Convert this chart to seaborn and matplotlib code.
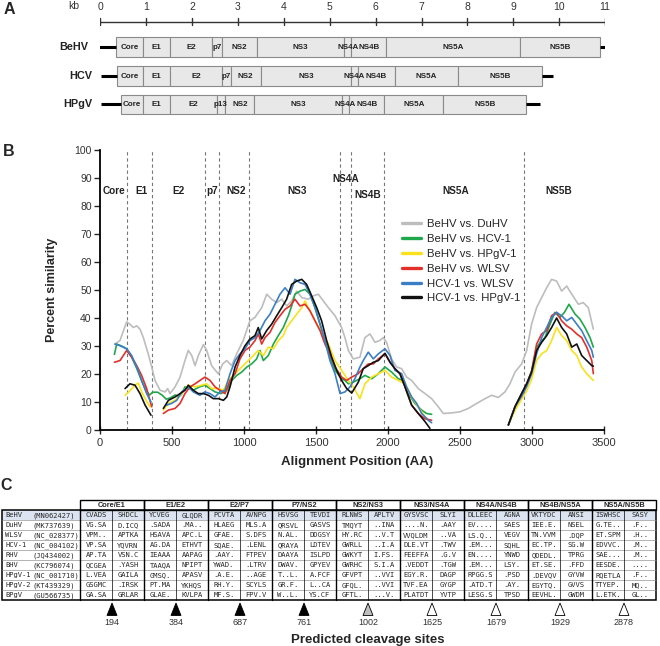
import numpy as np
import pandas as pd
import matplotlib
matplotlib.use("Agg")
import matplotlib.pyplot as plt
import seaborn as sns
from matplotlib.lines import Line2D
from matplotlib.patches import Rectangle, Polygon

sns.set_theme(style="white")
plt.rcParams["font.family"] = ["Liberation Sans", "DejaVu Sans"]

nan = np.nan

# ---------------- panel A: genome maps (kb) ----------------
kb_ticks = list(range(12))
genomes = ["BeHV", "HCV", "HPgV"]
behv_genes = ["Core", "E1", "E2", "p7", "NS2", "NS3", "NS4A", "NS4B", "NS5A", "NS5B"]
hcv_genes = ["Core", "E1", "E2", "p7", "NS2", "NS3", "NS4A", "NS4B", "NS5A", "NS5B"]
hpgv_genes = ["Core", "E1", "E2", "p13", "NS2", "NS3", "NS4A", "NS4B", "NS5A", "NS5B"]
behv_bounds = [0.34, 0.93, 1.53, 2.43, 2.66, 3.41, 5.31, 5.47, 6.23, 9.14, 10.88]
hcv_bounds = [0.36, 0.93, 1.53, 2.65, 2.84, 3.50, 5.46, 5.61, 6.42, 7.79, 9.63]
hpgv_bounds = [0.46, 0.93, 1.53, 2.54, 2.72, 3.36, 5.26, 5.43, 6.19, 7.47, 9.28]
behv_utr = [-0.07, 11.25]
hcv_utr = [0.02, 9.86]
hpgv_utr = [0.02, 9.58]

# ---------------- panel B: similarity plot ----------------
duhv_pos = [104, 139, 185, 208, 231, 255, 278, 301, 336, 359, 382, 417, 452, 470, 486, 521, 556, 590,
            613, 637, 660, 683, 718, 741, 775, 822, 852, 880, 914, 949, 995, 1041, 1076, 1123, 1158,
            1192, 1227, 1262, 1296, 1331, 1366, 1401, 1447, 1481, 1516, 1551, 1586, 1632, 1678, 1701,
            1725, 1759, 1805, 1840, 1875, 1910, 1944, 1967, 1990, 2025, 2060, 2095, 2129, 2164, 2210,
            2257, 2303, 2349, 2384, 2442, 2500, 2558, 2616, 2674, 2720, 2766, 2812, 2847, 2882, 2928,
            2963, 2997, 3032, 3067, 3102, 3136, 3171, 3206, 3241, 3276, 3322, 3356, 3391, 3426]
duhv_sim = [30.7, 32, 38.6, 37.8, 36.6, 37.2, 36, 33, 27, 22.5, 17.7, 14.2, 13.6, 14.8, 13, 15.4, 18.9, 24.8,
            28.4, 26.6, 23, 26.6, 30.5, 28.4, 23, 20, 23.6, 24.8, 23, 27.2, 32, 39, 40.2, 43.7, 48.5,
            46.7, 45.5, 46.7, 44.3, 46.1, 49.6, 47.3, 46.7, 47.9, 48.5, 46.1, 43.7, 40.8, 36.6, 33,
            28.4, 25.4, 26, 33, 34.3, 31.3, 32, 33, 31.3, 25.4, 22.5, 21.9, 18.9, 17.7, 14.8,
            13, 11.2, 8.3, 5.9, 6.1, 6.5, 7.7, 9.5, 11.2, 12.4, 11.6, 13.6, 16.5, 20.7, 23.6,
            28.4, 37.8, 43.7, 47.3, 50.8, 53.8, 53.2, 49.6, 51.4, 48.5, 44.9, 45.5, 43.7, 36]

hcv1_pos = [100, 116, 150, 185, 220, 255, 290, 320, 345, 365, 400, 430, 460, 490, 521, 550, 567, 590,
            613, 648, 690, 729, 764, 799, 840, 880, 915, 950, 984, 1020, 1053, 1088, 1111, 1134, 1169,
            1204, 1238, 1273, 1308, 1331, 1354, 1389, 1424, 1458, 1493, 1528, 1562, 1597, 1632, 1678,
            1701, 1725, 1759, 1805, 1840, 1887, 1933, 1979, 2025, 2072, 2106, 2141, 2187, 2234, 2268,
            2303, nan,
            2836, 2882, 2928, 2963, 2997, 3032, 3067, 3090, 3125, 3159, 3194, 3225, 3257, 3299, 3333,
            3368, 3403, 3426]
hcv1_sim = [27, 30.7, 30, 29, 26, 22, 17.5, 14, 12.5, 13.5, 13.5, 12.5, 11, 11.5, 12.5, 12, 12.8, 15.4,
            15, 14.2, 15.4, 16, 14.8, 13.6, 13, 14.2, 17.7, 19.5, 20.7, 22.5, 23.6, 25.4, 28.4, 24.8, 26.6,
            30.7, 33.7, 36.6, 40.8, 44.3, 48.5, 49.6, 50.2, 48.5, 43.7, 37.8, 31.9, 26, 21.3, 18.3,
            17.7, 16.5, 17.1, 18.3, 19.5, 18.3, 20.1, 22.5, 20.7, 18.3, 17.7, 13, 9.5, 7.1, 5.9,
            5.6, nan,
            1.8, 8.3, 13, 16.5, 20.7, 29.6, 31.9, 33, 37.8, 42, 40.2, 42, 44.9, 41.4, 39.6,
            36.6, 33, 29.6]

hpgv1_pos = [174, 208, 243, 265, 290, 320, 347, nan,
             440, 475, 521, 567, 613, 660, 706, 741, 775, 822, 857, 891, 938, 984, 1030, 1065, 1099,
             1134, 1169, 1204, 1238, 1273, 1296, 1331, 1366, 1401, 1424, 1458, 1493, 1539, 1586, 1632,
             1678, 1725, 1759, 1805, 1840, 1887, 1933, 1979, 2025, 2072, 2118, 2164, 2210, 2257, 2291, nan,
             2836, 2882, 2928, 2963, 2997, 3032, 3067, 3102, 3136, 3171, 3206, 3241, 3276, 3311, 3345,
             3380, 3426]
hpgv1_sim = [12.4, 14, 16, 16.8, 13.6, 10.6, 8.3, nan,
             7.1, 9.5, 10.6, 13, 16, 15.4, 16, 16.5, 14.8, 14.8, 14.2, 17.7, 20.1, 22.5, 24.8, 26.6, 28.4,
             26.6, 29.6, 29, 31.9, 33.7, 36.6, 39, 41.4, 43.7, 46.1, 42.6, 39, 34.9, 30.7, 24.8,
             21.3, 17.7, 15.4, 11.2, 16.5, 18.9, 20.1, 21.3, 18.9, 17.7, 16.5, 11.8, 8.3, 4.7, 3, nan,
             1.8, 7, 11, 14, 18, 24.8, 27.2, 28.4, 31.9, 36.6, 33.7, 31.9, 28.4, 26.6, 22.5,
             20.1, 17.7]

wlsv_pos = [100, 139, 185, 220, 255, 289, 324, 359, nan,
            440, 475, 521, 556, 590, 625, 660, 694, 729, 764, 799, 833, 868, 903, 938, 972, 1007, 1041,
            1076, 1099, 1123, 1146, 1181, 1215, 1250, 1285, 1320, 1354, 1389, 1424, 1458, 1493, 1528,
            1562, 1597, 1632, 1678, 1713, 1748, 1790, 1828, 1863, 1898, 1933, 1979, 2014, 2048, 2083,
            2118, 2164, 2210, 2257, 2303, nan,
            2836, 2882, 2928, 2963, 2997, 3032, 3067, 3102, 3136, 3171, 3206, 3241, 3276, 3311, 3345,
            3380, 3415, 3426]
wlsv_sim = [24.2, 24.8, 28.4, 26, 23, 19.5, 14.8, 8.3, nan,
            5.9, 7.1, 7.7, 9.5, 13, 15.4, 16.5, 17.7, 18.9, 17.7, 15.4, 14.2, 13, 17.7, 20.1, 25.4, 28.4, 29.6,
            31.9, 34.3, 30.7, 33, 34.9, 38.4, 40.8, 43.1, 44.3, 46.7, 44.3, 44.9, 42.6, 39, 35.5,
            30.7, 27.2, 22.5, 18.9, 17.7, 18.9, 20, 21.9, 23.6, 23.6, 25.4, 27.2, 24.2, 21.9, 20.1,
            15.4, 8.9, 5.9, 4, 3.5, nan,
            1.8, 8.3, 13, 16.5, 21, 30.7, 34.3, 35.5, 40.8, 42, 39, 37.2, 36, 34.3, 33,
            29.6, 24.8, 20.1]

hcv1_wlsv_pos = [104, 139, 185, 220, 255, 289, 324, 354, nan,
                 463, 498, 533, 567, 613, 648, 694, 729, 764, 799, 833, 868, 903, 938, 972, 1007, 1041,
                 1076, 1111, 1146, 1181, 1215, 1250, 1285, 1320, 1354, 1389, 1424, 1458, 1493, 1528, 1562,
                 1597, 1632, 1667, 1701, 1736, 1770, 1805, 1828, 1863, 1898, 1933, 1979, 2014, 2048, 2095,
                 2129, 2164, 2199, 2234, 2280, 2303, nan,
                 2836, 2882, 2928, 2963, 2997, 3032, 3067, 3102, 3136, 3171, 3206, 3241, 3276, 3311, 3345,
                 3380, 3415, 3426]
hcv1_wlsv_sim = [30.7, 30.1, 29, 26.6, 22.5, 17.7, 13, 10, nan,
                 8.9, 9.5, 10.6, 13.6, 15.4, 13.6, 12.4, 13.6, 13, 11.8, 13.6, 14.2, 20.1, 24.8, 27.2, 29, 31.9,
                 33, 35.5, 39, 41.4, 44.9, 48.5, 50.8, 48.5, 53.8, 52.6, 52, 48.5, 43.7, 37.8, 31.9,
                 24.8, 20.1, 13, 13.6, 15.4, 18.3, 22.5, 24.8, 27.8, 25.4, 27.2, 29, 26.6, 21.3, 20.1,
                 15.4, 11.8, 9.5, 5.9, 3.5, 2.6, nan,
                 1.8, 8.3, 12, 15.5, 20, 27.2, 33, 36.6, 40.2, 42, 40.8, 39, 40.2, 37.8, 35.5,
                 31.9, 28.4, 26]

hcv1_hpgv1_pos = [174, 208, 243, 278, 313, 354, nan,
                  440, 475, 521, 556, 590, 613, 648, 683, 718, 753, 787, 822, 857, 880, 903, 938, 972, 1007,
                  1041, 1076, 1099, 1123, 1157, 1192, 1227, 1262, 1296, 1331, 1366, 1401, 1435, 1470, 1505,
                  1539, 1574, 1609, 1644, 1678, 1713, 1748, 1794, 1828, 1863, 1898, 1933, 1979, 2014, 2048,
                  2083, 2118, 2164, 2210, 2257, 2291, nan,
                  2836, 2882, 2928, 2963, 2997, 3032, 3067, 3102, 3136, 3171, 3206, 3241, 3276, 3311, 3345,
                  3380, 3415, 3426]
hcv1_hpgv1_sim = [14.8, 16.5, 16, 13, 8.9, 5.3, nan,
                  7.7, 10.6, 11.8, 13, 14.2, 16, 14.2, 13, 13, 12.4, 11.2, 11.2, 10.6, 11.8, 15.4, 22.5, 26.6, 30.1,
                  32.5, 33.7, 36.6, 32.5, 35.5, 37.8, 40.8, 43.7, 46.7, 52, 53.2, 53.8, 52, 47.9, 43.7,
                  39, 31.9, 26, 21.3, 17.7, 14.8, 13.2, 17.1, 21.9, 23, 24.2, 24.8, 27.4, 24.2, 21.9,
                  20.1, 15.4, 8.9, 5.9, 3, 0.6, nan,
                  1.8, 8.3, 13, 16.5, 20.7, 28.4, 31.3, 33.7, 36.6, 40, 36.6, 34.3, 29.6, 30.7, 26.6,
                  24.8, 23, 22.8]

pair_names = ["BeHV vs. DuHV", "BeHV vs. HCV-1", "BeHV vs. HPgV-1",
              "BeHV vs. WLSV", "HCV-1 vs. WLSV", "HCV-1 vs. HPgV-1"]
pair_colors = ["#bdbdbd", "#1ea84b", "#f9e21b", "#e2302a", "#3c7ec6", "#111111"]

region_names = ["Core", "E1", "E2", "p7", "NS2", "NS3", "NS4A", "NS4B", "NS5A", "NS5B"]
region_x = [95, 285, 548, 781, 942, 1366, 1708, 1857, 2468, 3187]
region_y = [85.5, 85.5, 85.5, 85.5, 85.5, 85.5, 89.5, 84, 85.5, 85.5]
region_bounds = [190, 359, 728, 826, 1035, 1668, 1745, 1974, 2944]

# ---------------- panel C: cleavage site table ----------------
junctions = ["Core/E1", "E1/E2", "E2/P7", "P7/NS2", "NS2/NS3", "NS3/NS4A",
             "NS4A/NS4B", "NS4B/NS5A", "NS5A/NS5B"]
virus_names = ["BeHV", "DuHV", "WLSV", "HCV-1", "RHV", "BHV", "HPgV-1", "HPgV-2", "BPgV"]
accessions = ["(MN062427)", "(MK737639)", "(NC_028377)", "(NC_004102)", "(JQ434002)",
              "(KC796074)", "(NC_001710)", "(KT439329)", "(GU566735)"]
site_seqs = [
    "CVADS SHDCL YCVEG GLQDR PCVTA AVNPG HSVSG TEVDI RLNWS APLTV GYSVSC SLYI DLLEEC AGNA VKTYDC ANSI ISWHSC SASY",
    "VG.SA D.ICQ .SADA .MA.. HLAEG MLS.A QRSVL GASVS TMQYT ..INA ....N. .AAY EV.... SAES IEE.E. NSEL G.TE.. .F..",
    "VPM.. APTKA HSAVA APC.L GFAE. S.DFS N.AL. DDGSY HY.RC ..V.T VVQLDM ..VA LS.Q.. VEGV TN.VVM .DQP ET.SPM .H..",
    "VP.SA YQVRN AG.DA ETHVT SQAE. .LENL QRAYA LDTEV GWRLL ..I.A DLE.VT .TWV .EM... SQHL EC.TP. SG.W EDVVC. .M..",
    "AP.TA VSN.C IEAAA AAPAG .AAY. FTPEV DAAYA ISLPD GWKYT I.FS. FEEFFA .G.V EN.... YNWD QDEDL. TPRG SAE... .M..",
    "QCGEA .YASH TAAQA NPIPT YWAD. .LTRV DWAV. GPYEV GWRHC S.I.A .VEDDT .TGW .EM... LSY. ET.SE. .FFD EESDE. ....",
    "L.VEA GAILA GMSQ. APASV .A.E. ..AGE T..L. A.FCF GFVPT ..VVI EGY.R. DAGP RPGG.S .PSD .DEVQV GYVW RQETLA .F..",
    "GSGMC .IRSK PT.MA YKHQS RH.Y. SCYLS GR.F. L..CA GFQL. ..VVI TVF.EA GYGP .ATD.T .AY. EGYTQ. GVVS TTYEP. MQ..",
    "GA.SA GRLAR GLAE. KVLPA MF.S. FPV.V W..L. YS.CF GFTL. ...V. PLATDT YVTP LESG.S TPSD EEVHL. GWDM L.ETK. GL..",
]
cleavage_sites = [194, 384, 687, 761, 1002, 1625, 1679, 1929, 2878]
site_fill = ["#000000"] * 4 + ["#bfbfbf"] + ["#ffffff"] * 4

# ================= figure =================
W, H = 660, 646
fig = plt.figure(figsize=(W / 100, H / 100), dpi=100)

# ----- panel A -----
ax_a = fig.add_axes([100.2 / W, 1 - 130 / H, 505 / W, 130 / H])
ax_a.set_xlim(0, 11)
ax_a.set_ylim(130, 0)
ax_a.axis("off")
ax_a.plot([0, 11], [21.7, 21.7], color="#333333", lw=1.0)
for k in kb_ticks:
    ax_a.plot([k, k], [18.3, 25.0], color="#333333", lw=1.0)
    ax_a.text(k, 7, str(k), ha="center", va="center", fontsize=7.5, color="#333333")
ax_a.text(-0.58, 6, "kb", ha="center", va="center", fontsize=7.5, color="#333333")

genome_rows = [(behv_bounds, behv_genes, behv_utr, 47, -0.26),
               (hcv_bounds, hcv_genes, hcv_utr, 76, -0.17),
               (hpgv_bounds, hpgv_genes, hpgv_utr, 104.3, -0.17)]
for name, (bounds, genes, utr, yc, xlab) in zip(genomes, genome_rows):
    ax_a.plot([utr[0], bounds[0]], [yc, yc], color="black", lw=2.2, solid_capstyle="butt")
    ax_a.plot([bounds[-1], utr[1]], [yc, yc], color="black", lw=2.2, solid_capstyle="butt")
    for i, g in enumerate(genes):
        x0, x1 = bounds[i], bounds[i + 1]
        ax_a.add_patch(Rectangle((x0, yc - 9.6), x1 - x0, 19.2, facecolor="#e8e8e8",
                                 edgecolor="#8a8a8a", lw=0.8))
        ax_a.text((x0 + x1) / 2, yc + 0.5, g, ha="center", va="center", fontsize=5.8,
                  fontweight="bold", color="#222222")
    ax_a.text(xlab, yc, name, ha="right", va="center", fontsize=7.8, fontweight="bold",
              color="#222222", clip_on=False)

# ----- panel B -----
ax_b = fig.add_axes([100 / W, 1 - 430 / H, 504 / W, 280 / H])
series = [(duhv_pos, duhv_sim), (hcv1_pos, hcv1_sim), (hpgv1_pos, hpgv1_sim),
          (wlsv_pos, wlsv_sim), (hcv1_wlsv_pos, hcv1_wlsv_sim), (hcv1_hpgv1_pos, hcv1_hpgv1_sim)]
rows = []
for name, (pos, sim) in zip(pair_names, series):
    assert len(pos) == len(sim), name
    seg = 0
    for p, s in zip(pos, sim):
        if np.isnan(p):
            seg += 1
            continue
        rows.append((name, f"{name}-{seg}", p, s))
df = pd.DataFrame(rows, columns=["pair", "seg", "pos", "sim"])

for b in region_bounds:
    ax_b.plot([b, b], [0, 100], color="#777777", lw=0.8, dashes=(3, 2.5), zorder=1)

sns.lineplot(data=df, x="pos", y="sim", hue="pair", units="seg", estimator=None,
             hue_order=pair_names, palette=dict(zip(pair_names, pair_colors)),
             lw=1.2, sort=True, legend=False, ax=ax_b, zorder=3)

for name, x, y in zip(region_names, region_x, region_y):
    ax_b.text(x, y, name, ha="center", va="center", fontsize=7.2, fontweight="bold", color="#222222")

handles = [Line2D([0], [0], color=c, lw=2.4) for c in pair_colors]
ax_b.legend(handles, pair_names, loc="upper left", bbox_to_anchor=(0.599, 0.752),
            frameon=False, fontsize=8.2, handlelength=1.7, handletextpad=0.5,
            labelspacing=0.42, borderaxespad=0, borderpad=0)

ax_b.set_xlim(0, 3500)
ax_b.set_ylim(0, 100)
ax_b.set_xticks(range(0, 3501, 500))
ax_b.set_yticks(range(0, 101, 10))
for side in ["top", "right"]:
    ax_b.spines[side].set_visible(False)
for side in ["left", "bottom"]:
    ax_b.spines[side].set_color("black")
    ax_b.spines[side].set_linewidth(1.3)
ax_b.tick_params(axis="y", direction="out", length=4, width=1, labelsize=7.5,
                 labelcolor="#333333", left=True, pad=2)
ax_b.tick_params(axis="x", direction="inout", length=6, width=1, labelsize=8,
                 labelcolor="#333333", bottom=True, pad=3)
ax_b.set_xlabel("Alignment Position (AA)", fontsize=9.5, fontweight="bold")
ax_b.set_ylabel("Percent similarity", fontsize=9, fontweight="bold")
ax_b.xaxis.set_label_coords(0.51, -0.093)
ax_b.yaxis.set_label_coords(-0.083, 0.5)
ax_b.grid(False)

# ----- overlay in pixel units: panel letters and table C -----
ax_o = fig.add_axes([0, 0, 1, 1])
ax_o.set_xlim(0, W)
ax_o.set_ylim(H, 0)
ax_o.axis("off")
ax_o.patch.set_visible(False)

for letter, (x, y) in zip("ABC", [(9, 9), (9, 151), (6, 486)]):
    ax_o.text(x, y, letter, ha="center", va="center", fontsize=11.5, fontweight="bold")

name_l, name_r, col_w = 2, 80, 32
head_t, row_t, row_h = 500, 510, 10
n_rows = len(virus_names)
tab_r = name_r + col_w * 2 * len(junctions)
tab_b = row_t + row_h * n_rows
mono = ["DejaVu Sans Mono"]

ax_o.add_patch(Rectangle((name_l, row_t), tab_r - name_l, row_h, facecolor="#dbe4f0",
                         edgecolor="none", zorder=0))
for r in range(1, n_rows):
    ax_o.plot([name_l, tab_r], [row_t + r * row_h] * 2, color="#8a8a8a", lw=0.45)
for c in range(2 * len(junctions)):
    x = name_r + c * col_w
    ax_o.plot([x, x], [row_t, tab_b], color="black", lw=1.0 if c % 2 == 0 else 0.5)
ax_o.add_patch(Rectangle((name_l, row_t), tab_r - name_l, tab_b - row_t, facecolor="none",
                         edgecolor="black", lw=1.1))
for j, lab in enumerate(junctions):
    x0 = name_r + j * 2 * col_w
    ax_o.add_patch(Rectangle((x0, head_t), 2 * col_w, row_t - head_t, facecolor="none",
                             edgecolor="black", lw=1.0))
    ax_o.text(x0 + col_w, (head_t + row_t) / 2 + 0.5, lab, ha="center", va="center",
              fontsize=5.3, fontweight="bold")

for r, (vn, acc, seqs) in enumerate(zip(virus_names, accessions, site_seqs)):
    yc = row_t + r * row_h + row_h / 2 + 0.3
    ax_o.text(name_l + 3, yc, vn, ha="left", va="center", fontsize=5.1, family=mono)
    ax_o.text(name_l + 31, yc, acc, ha="left", va="center", fontsize=5.1, family=mono)
    for c, s in enumerate(seqs.split()):
        ax_o.text(name_r + c * col_w + col_w / 2, yc, s, ha="center", va="center",
                  fontsize=5.1, family=mono)

for j, (site, fc) in enumerate(zip(cleavage_sites, site_fill)):
    cx = name_r + (2 * j + 1) * col_w
    ax_o.add_patch(Polygon([(cx, 603), (cx - 5, 615.5), (cx + 5, 615.5)], closed=True,
                           facecolor=fc, edgecolor="black", lw=0.6))
    ax_o.text(cx, 622.5, str(site), ha="center", va="center", fontsize=6.5, color="#333333")
ax_o.text((name_r + tab_r) / 2, 640, "Predicted cleavage sites", ha="center", va="center",
          fontsize=9.5, fontweight="bold")

fig.savefig("out.png", dpi=100)
